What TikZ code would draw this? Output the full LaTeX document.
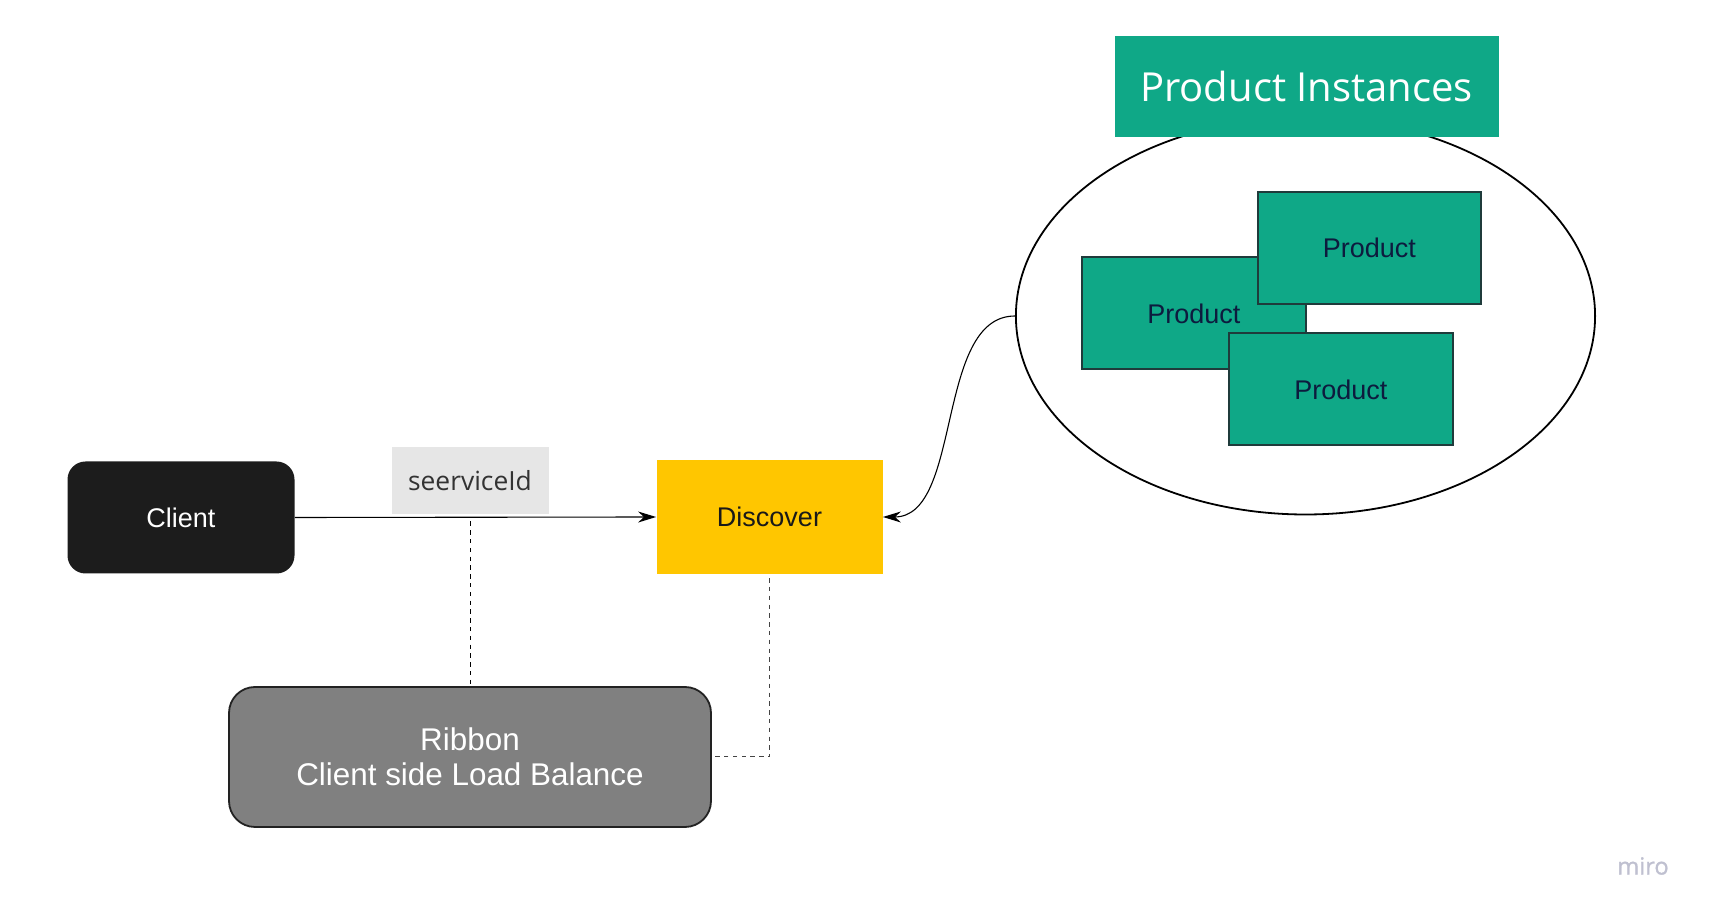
\documentclass[tikz,border=0pt]{standalone}
\usepackage{fontspec}
\setmainfont{Liberation Sans}
\newfontfamily\opensans{Open Sans}
\newfontfamily\opensansbold[FakeBold=1.2]{Open Sans}
\usetikzlibrary{arrows.meta,calc,shapes.geometric}
\definecolor{clientfill}{HTML}{1C1C1C}
\definecolor{labelgray}{HTML}{E6E6E6}
\definecolor{labeltext}{HTML}{333333}
\definecolor{discfill}{HTML}{FFC600}
\definecolor{ribfill}{HTML}{808080}
\definecolor{ribdraw}{HTML}{222222}
\definecolor{teal}{HTML}{0FA887}
\definecolor{proddraw}{HTML}{1F3B3B}
\definecolor{prodtext}{HTML}{0D1B3E}
\definecolor{mirocol}{HTML}{BFC0D0}
\definecolor{dashgray}{HTML}{444444}
\tikzset{
  base/.style={inner sep=0pt, align=center, font=\fontsize{13.5pt}{16pt}\selectfont},
  clientbox/.style={base, fill=clientfill, text=white, rounded corners=9pt,
    minimum width=113.5pt, minimum height=56pt},
  labelbox/.style={inner sep=0pt, fill=labelgray, text=labeltext,
    font=\opensans\fontsize{13.2pt}{16pt}\selectfont, minimum width=78.5pt, minimum height=33.5pt},
  discbox/.style={base, fill=discfill, text=black!90, minimum width=113pt, minimum height=56.75pt},
  ribbox/.style={inner sep=0pt, align=center, fill=ribfill, draw=ribdraw, line width=0.9pt,
    rounded corners=13pt, text=white, font=\fontsize{15.7pt}{17.5pt}\selectfont,
    minimum width=241pt, minimum height=70pt},
  titlebox/.style={inner sep=0pt, fill=teal, text=white, font=\opensans\fontsize{20pt}{24pt}\selectfont,
    minimum width=192pt, minimum height=50.5pt},
  prodbox/.style={base, fill=teal, draw=proddraw, line width=1pt, text=prodtext,
    minimum width=111.75pt, minimum height=56pt},
  ellbox/.style={ellipse, draw=black, line width=0.9pt, fill=white, inner sep=0pt,
    minimum width=289.6pt, minimum height=198.5pt},
  flow/.style={draw=black, line width=0.55pt, -{Stealth[length=9pt,width=5.5pt]}},
  dashline/.style={line width=0.5pt, dash pattern=on 2.2pt off 2.2pt},
}
\begin{document}
\begin{tikzpicture}[x=0.5pt,y=-0.5pt]
\useasboundingbox (0,0) rectangle (1710,913);
% ellipse and title
\node[ellbox] (ell) at (1305.5,316) {};
\node[titlebox] (title) at (1306.5,86.7) {Product Instances};
% products
\node[prodbox] (p1) at (1193.8,313.5) {Product};
\node[prodbox] (p2) at (1369.3,248) {Product};
\node[prodbox] (p3) at (1340.9,389.4) {Product};
% main nodes
\node[clientbox] (cl) at (181,517.5) {Client};
\node[labelbox] (lab) at (470,480.5) {seerviceId};
\node[discbox] (disc) at (769.5,517) {Discover};
\node[ribbox] (rib) at (470,757) {Ribbon\\Client side Load Balance};
% connectors
\draw[flow] (cl.east) -- (disc.west);
\draw[flow] (ell.west) .. controls +(-80,0) and +(80,0) .. (disc.east);
\draw[dashline, black] ($(rib.north |- cl.east)+(0,4)$) -- (rib.north);
\draw[dashline, dashgray] ($(disc.south)+(0,4)$) |- (rib.east);
% watermark
\node[inner sep=0pt, text=mirocol, font=\opensansbold\fontsize{11.8pt}{14pt}\selectfont] (miro) at (1643,866) {miro};
\end{tikzpicture}
\end{document}
